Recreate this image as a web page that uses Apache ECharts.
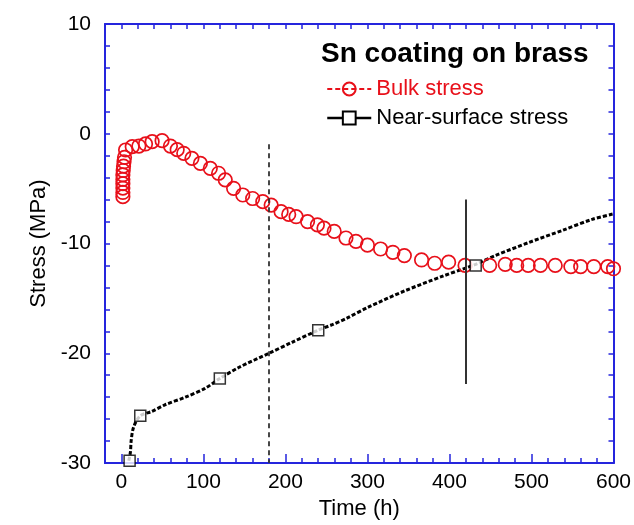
<!DOCTYPE html>
<html><head><meta charset="utf-8">
<script src="https://cdn.jsdelivr.net/npm/echarts@6/dist/echarts.min.js"></script>
<style>html,body{margin:0;padding:0;background:#fff}#c{width:634px;height:525px}</style>
</head><body><div id="c"></div>
<script>
// Bulk stress (red hollow circles)
const bulkTime   = [1.8,1.8,1.8,1.8,1.8,1.8,2.2,2.6,3.2,3.8,5.1,13.2,21.3,29.4,37.5,49.6,59.8,68,76,86,96.3,108.4,118.5,126.6,136.8,148,160,172.4,182.6,194.7,204,213,227,239,247,259.5,273.8,286,300,316,331,345,366,382,399,419,449,468,482,496,511,529,548,560,576,593,600];
const bulkStress = [-5.73,-5.35,-4.95,-4.55,-4.15,-3.75,-3.35,-2.95,-2.55,-2.15,-1.48,-1.18,-1.12,-0.93,-0.72,-0.63,-1.12,-1.45,-1.78,-2.24,-2.7,-3.15,-3.6,-4.2,-4.97,-5.58,-5.9,-6.19,-6.5,-7.1,-7.35,-7.56,-8.0,-8.3,-8.6,-8.9,-9.5,-9.8,-10.15,-10.5,-10.8,-11.1,-11.5,-11.8,-11.7,-12.0,-12.0,-11.9,-12.0,-12.0,-12.0,-12.0,-12.1,-12.1,-12.1,-12.1,-12.3];
// Near-surface stress (black dashed trace)
const surfTime   = [9,11,12,15,23,37,53,78,102,120,143,180,208,240,257,275,301,346,391,421,432,456,497,538,574,600];
const surfStress = [-29.8,-29.0,-27.9,-26.7,-25.7,-25.3,-24.7,-24.0,-23.2,-22.3,-21.3,-20.0,-19.0,-17.9,-17.4,-16.8,-15.8,-14.3,-13.0,-12.2,-11.9,-11.1,-9.9,-8.8,-7.8,-7.3];
// Near-surface measured points (open squares)
const squareTime   = [10,23,120,240,432];
const squareStress = [-29.8,-25.7,-22.3,-17.9,-12.0];
// Reference vertical lines
const dashedLineTime = 180, dashedLineFrom = -0.95, dashedLineTo = -30;
const solidLineTime = 420, solidLineFrom = -6.0, solidLineTo = -22.8;
// Axis ticks / labels
const xLabels = [0,100,200,300,400,500,600];
const yLabels = [-30,-20,-10,0,10];
const xMin = -20, xMax = 600, yMin = -30, yMax = 10;

const xMinor = []; for (let v = 0; v <= xMax; v += 20) xMinor.push(v);
const yMinor = []; for (let v = yMin; v <= yMax; v += 2) yMinor.push(v);

const AX = '#2525dd';
const FONT = "'Liberation Sans', Arial, sans-serif";
const RED = '#e8101a';

const zip = (a, b) => a.map((v, i) => [v, b[i]]);

function xAxisBase(extra) {
  return Object.assign({
    type: 'value', min: xMin, max: xMax, gridIndex: 0,
    splitLine: { show: false },
    axisLine: { show: true, onZero: false, lineStyle: { color: AX, width: 2 } },
    axisTick: { show: true, inside: true, length: 5, customValues: xMinor, lineStyle: { color: AX, width: 1.5 } },
    axisLabel: { show: false }
  }, extra);
}
function yAxisBase(extra) {
  return Object.assign({
    type: 'value', min: yMin, max: yMax, gridIndex: 0,
    splitLine: { show: false },
    axisLine: { show: true, onZero: false, lineStyle: { color: AX, width: 2 } },
    axisTick: { show: true, inside: true, length: 5, customValues: yMinor, lineStyle: { color: AX, width: 1.5 } },
    axisLabel: { show: false }
  }, extra);
}

const chart = echarts.init(document.getElementById('c'), null, { renderer: 'canvas' });
chart.setOption({
  animation: false,
  backgroundColor: '#fff',
  textStyle: { fontFamily: FONT },
  title: {
    text: 'Sn coating on brass', left: 316, top: 35,
    textStyle: { fontFamily: FONT, fontSize: 28, fontWeight: 'bold', color: '#000' }
  },
  legend: {
    orient: 'vertical', left: 321, top: 73, itemWidth: 44, itemHeight: 16, itemGap: 7,
    textStyle: { fontFamily: FONT, fontSize: 22 },
    data: [
      { name: 'Bulk stress', textStyle: { color: RED }, lineStyle: { type: [5, 3], width: 2, color: RED, opacity: 1 } },
      { name: 'Near-surface stress', textStyle: { color: '#000' }, lineStyle: { type: 'solid', width: 2.5, color: '#000', opacity: 1 } }
    ]
  },
  grid: { left: 105, right: 19, top: 24, bottom: 62, containLabel: false },
  xAxis: [
    xAxisBase({
      position: 'bottom',
      name: 'Time (h)', nameLocation: 'middle', nameGap: 33,
      nameTextStyle: { fontFamily: FONT, fontSize: 22, color: '#000' },
      axisLabel: { show: true, customValues: xLabels, margin: 9, fontFamily: FONT, fontSize: 21, color: '#000' }
    }),
    xAxisBase({ position: 'bottom', axisTick: { show: true, inside: true, length: 9, customValues: xLabels, lineStyle: { color: AX, width: 1.5 } } }),
    xAxisBase({ position: 'top' })
  ],
  yAxis: [
    yAxisBase({
      position: 'left',
      name: 'Stress (MPa)', nameLocation: 'middle', nameGap: 48,
      nameTextStyle: { fontFamily: FONT, fontSize: 22, color: '#000' },
      axisLabel: { show: true, customValues: yLabels, margin: 14, fontFamily: FONT, fontSize: 21, color: '#000' }
    }),
    yAxisBase({ position: 'right' })
  ],
  series: [
    {
      name: 'Near-surface stress', type: 'line', xAxisIndex: 0, yAxisIndex: 0,
      data: zip(surfTime, surfStress), smooth: 0.3,
      symbol: 'rect', symbolSize: 10, showSymbol: false,
      itemStyle: { color: '#fff', borderColor: '#000', borderWidth: 1.5 },
      lineStyle: { color: '#000', width: 3, type: [4, 2] },
      z: 3,
      markLine: {
        silent: true, symbol: 'none', label: { show: false },
        data: [
          [{ coord: [dashedLineTime, dashedLineFrom], lineStyle: { type: [5, 4], color: '#333', width: 1.8 } },
           { coord: [dashedLineTime, dashedLineTo] }],
          [{ coord: [solidLineTime, solidLineFrom], lineStyle: { type: 'solid', color: '#333', width: 2 } },
           { coord: [solidLineTime, solidLineTo] }]
        ]
      }
    },
    {
      name: 'Bulk stress', type: 'line', xAxisIndex: 0, yAxisIndex: 0,
      data: zip(bulkTime, bulkStress),
      symbol: 'circle', symbolSize: 13.5, showSymbol: true, showAllSymbol: true,
      itemStyle: { color: 'rgba(255,255,255,0)', borderColor: RED, borderWidth: 1.7 },
      lineStyle: { opacity: 0, color: RED },
      z: 4
    },
    {
      name: 'squares', type: 'scatter', xAxisIndex: 0, yAxisIndex: 0,
      data: zip(squareTime, squareStress),
      symbol: 'rect', symbolSize: 11,
      itemStyle: { color: '#fff', borderColor: '#000', borderWidth: 1.5 },
      z: 5
    }
  ]
});
</script></body></html>
